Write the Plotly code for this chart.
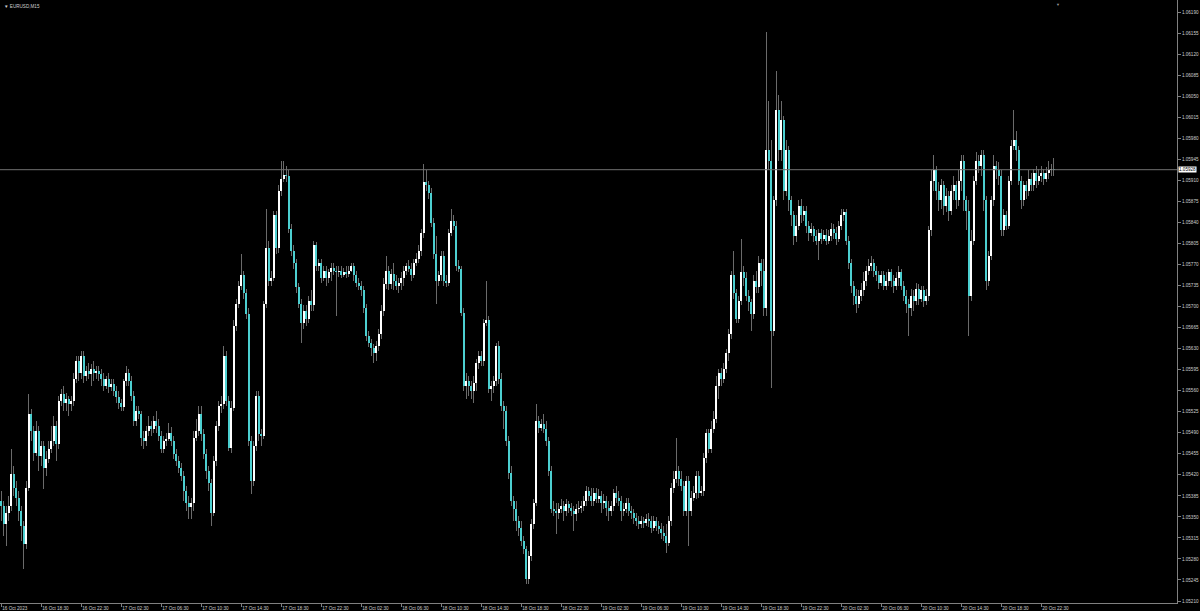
import plotly.graph_objects as go

# ---------------- data (EURUSD M15, 16 Oct 14:30 -> 20 Oct 23:45) ----------------
close = [
1.05368,1.05338,1.05357,1.05368,1.05422,1.05398,1.05382,1.05360,1.05335,1.05305,
1.05398,1.05522,1.05493,1.05457,1.05493,1.05452,1.05468,1.05432,1.05447,1.05463,
1.05477,1.05502,1.05472,1.05543,1.05555,1.05540,1.05547,1.05538,1.05543,1.05580,
1.05610,1.05590,1.05618,1.05585,1.05593,1.05588,1.05597,1.05590,1.05593,1.05588,
1.05580,1.05568,1.05580,1.05567,1.05572,1.05560,1.05550,1.05540,1.05533,1.05577,
1.05590,1.05577,1.05552,1.05510,1.05527,1.05522,1.05482,1.05477,1.05493,1.05502,
1.05497,1.05510,1.05502,1.05485,1.05463,1.05477,1.05480,1.05490,1.05477,1.05455,
1.05443,1.05432,1.05418,1.05393,1.05373,1.05367,1.05373,1.05482,1.05493,1.05522,
1.05488,1.05455,1.05427,1.05407,1.05357,1.05443,1.05502,1.05535,1.05538,1.05618,
1.05543,1.05465,1.05532,1.05668,1.05705,1.05735,1.05752,1.05722,1.05688,1.05477,
1.05410,1.05468,1.05552,1.05488,1.05485,1.05705,1.05798,1.05743,1.05748,1.05852,
1.05797,1.05893,1.05913,1.05920,1.05917,1.05830,1.05793,1.05773,1.05732,1.05705,
1.05672,1.05693,1.05680,1.05710,1.05702,1.05802,1.05768,1.05773,1.05748,1.05760,
1.05747,1.05757,1.05765,1.05760,1.05757,1.05760,1.05753,1.05758,1.05755,1.05760,
1.05767,1.05752,1.05740,1.05735,1.05727,1.05698,1.05652,1.05640,1.05632,1.05623,
1.05635,1.05655,1.05693,1.05738,1.05760,1.05738,1.05755,1.05743,1.05735,1.05740,
1.05748,1.05760,1.05768,1.05763,1.05752,1.05773,1.05780,1.05793,1.05822,1.05907,
1.05902,1.05890,1.05840,1.05788,1.05743,1.05752,1.05785,1.05743,1.05740,1.05823,
1.05843,1.05835,1.05768,1.05763,1.05690,1.05568,1.05577,1.05568,1.05560,1.05573,
1.05607,1.05618,1.05610,1.05673,1.05677,1.05563,1.05568,1.05577,1.05635,1.05580,
1.05535,1.05527,1.05477,1.05423,1.05377,1.05363,1.05343,1.05332,1.05310,1.05297,
1.05247,1.05285,1.05338,1.05373,1.05510,1.05498,1.05505,1.05497,1.05477,1.05427,
1.05363,1.05360,1.05357,1.05363,1.05368,1.05360,1.05372,1.05365,1.05360,1.05355,
1.05363,1.05365,1.05368,1.05377,1.05393,1.05385,1.05377,1.05390,1.05380,1.05385,
1.05373,1.05377,1.05365,1.05360,1.05368,1.05390,1.05382,1.05377,1.05360,1.05363,
1.05373,1.05360,1.05357,1.05348,1.05343,1.05338,1.05343,1.05340,1.05347,1.05343,
1.05332,1.05343,1.05335,1.05330,1.05323,1.05318,1.05307,1.05343,1.05398,1.05413,
1.05427,1.05413,1.05402,1.05360,1.05410,1.05360,1.05382,1.05390,1.05418,1.05390,
1.05393,1.05448,1.05490,1.05463,1.05497,1.05513,1.05568,1.05590,1.05580,1.05597,
1.05623,1.05655,1.05752,1.05723,1.05680,1.05710,1.05757,1.05748,1.05718,1.05707,
1.05688,1.05743,1.05732,1.05773,1.05760,1.05697,1.05960,1.05943,1.05660,1.05877,
1.06027,1.05960,1.06010,1.05893,1.05960,1.05877,1.05852,1.05818,1.05835,1.05868,
1.05852,1.05860,1.05835,1.05823,1.05830,1.05818,1.05810,1.05823,1.05813,1.05820,
1.05810,1.05817,1.05830,1.05823,1.05813,1.05835,1.05852,1.05857,1.05810,1.05773,
1.05735,1.05718,1.05705,1.05718,1.05727,1.05743,1.05760,1.05768,1.05773,1.05760,
1.05752,1.05740,1.05752,1.05735,1.05743,1.05757,1.05743,1.05735,1.05747,1.05757,
1.05735,1.05718,1.05705,1.05697,1.05718,1.05710,1.05730,1.05713,1.05727,1.05710,
1.05718,1.05827,1.05910,1.05927,1.05893,1.05877,1.05902,1.05868,1.05885,1.05860,
1.05893,1.05902,1.05877,1.05910,1.05943,1.05877,1.05860,1.05718,1.05810,1.05910,
1.05943,1.05935,1.05952,1.05877,1.05743,1.05785,1.05877,1.05935,1.05927,1.05918,
1.05827,1.05852,1.05835,1.05910,1.05968,1.05977,1.05960,1.05910,1.05877,1.05902,
1.05893,1.05913,1.05902,1.05923,1.05910,1.05918,1.05923,1.05913,1.05923,1.05927,
1.05930,1.05928]

open_ = [
1.05377,1.05368,1.05338,1.05357,1.05368,1.05422,1.05398,1.05382,1.05360,1.05335,
1.05305,1.05398,1.05522,1.05493,1.05457,1.05493,1.05452,1.05468,1.05432,1.05447,
1.05463,1.05477,1.05502,1.05472,1.05543,1.05555,1.05540,1.05547,1.05538,1.05543,
1.05580,1.05610,1.05590,1.05618,1.05585,1.05593,1.05588,1.05597,1.05590,1.05593,
1.05588,1.05580,1.05568,1.05580,1.05567,1.05572,1.05560,1.05550,1.05540,1.05533,
1.05577,1.05590,1.05577,1.05552,1.05510,1.05527,1.05522,1.05482,1.05477,1.05493,
1.05502,1.05497,1.05510,1.05502,1.05485,1.05463,1.05477,1.05480,1.05490,1.05477,
1.05455,1.05443,1.05432,1.05418,1.05393,1.05373,1.05367,1.05373,1.05482,1.05493,
1.05522,1.05488,1.05455,1.05427,1.05407,1.05357,1.05443,1.05502,1.05535,1.05538,
1.05618,1.05543,1.05465,1.05532,1.05668,1.05705,1.05735,1.05752,1.05722,1.05688,
1.05477,1.05410,1.05468,1.05552,1.05488,1.05485,1.05705,1.05798,1.05743,1.05748,
1.05852,1.05797,1.05893,1.05913,1.05920,1.05917,1.05830,1.05793,1.05773,1.05732,
1.05705,1.05672,1.05693,1.05680,1.05710,1.05702,1.05802,1.05768,1.05773,1.05748,
1.05760,1.05747,1.05757,1.05765,1.05760,1.05757,1.05760,1.05753,1.05758,1.05755,
1.05760,1.05767,1.05752,1.05740,1.05735,1.05727,1.05698,1.05652,1.05640,1.05632,
1.05623,1.05635,1.05655,1.05693,1.05738,1.05760,1.05738,1.05755,1.05743,1.05735,
1.05740,1.05748,1.05760,1.05768,1.05763,1.05752,1.05773,1.05780,1.05793,1.05822,
1.05907,1.05902,1.05890,1.05840,1.05788,1.05743,1.05752,1.05785,1.05743,1.05740,
1.05823,1.05843,1.05835,1.05768,1.05763,1.05690,1.05568,1.05577,1.05568,1.05560,
1.05573,1.05607,1.05618,1.05610,1.05673,1.05677,1.05563,1.05568,1.05577,1.05635,
1.05580,1.05535,1.05527,1.05477,1.05423,1.05377,1.05363,1.05343,1.05332,1.05310,
1.05297,1.05247,1.05285,1.05338,1.05373,1.05510,1.05498,1.05505,1.05497,1.05477,
1.05427,1.05363,1.05360,1.05357,1.05363,1.05368,1.05360,1.05372,1.05365,1.05360,
1.05355,1.05363,1.05365,1.05368,1.05377,1.05393,1.05385,1.05377,1.05390,1.05380,
1.05385,1.05373,1.05377,1.05365,1.05360,1.05368,1.05390,1.05382,1.05377,1.05360,
1.05363,1.05373,1.05360,1.05357,1.05348,1.05343,1.05338,1.05343,1.05340,1.05347,
1.05343,1.05332,1.05343,1.05335,1.05330,1.05323,1.05318,1.05307,1.05343,1.05398,
1.05413,1.05427,1.05413,1.05402,1.05360,1.05410,1.05360,1.05382,1.05390,1.05418,
1.05390,1.05393,1.05448,1.05490,1.05463,1.05497,1.05513,1.05568,1.05590,1.05580,
1.05597,1.05623,1.05655,1.05752,1.05723,1.05680,1.05710,1.05757,1.05748,1.05718,
1.05707,1.05688,1.05743,1.05732,1.05773,1.05760,1.05697,1.05960,1.05943,1.05660,
1.05877,1.06027,1.05960,1.06010,1.05893,1.05960,1.05877,1.05852,1.05818,1.05835,
1.05868,1.05852,1.05860,1.05835,1.05823,1.05830,1.05818,1.05810,1.05823,1.05813,
1.05820,1.05810,1.05817,1.05830,1.05823,1.05813,1.05835,1.05852,1.05857,1.05810,
1.05773,1.05735,1.05718,1.05705,1.05718,1.05727,1.05743,1.05760,1.05768,1.05773,
1.05760,1.05752,1.05740,1.05752,1.05735,1.05743,1.05757,1.05743,1.05735,1.05747,
1.05757,1.05735,1.05718,1.05705,1.05697,1.05718,1.05710,1.05730,1.05713,1.05727,
1.05710,1.05718,1.05827,1.05910,1.05927,1.05893,1.05877,1.05902,1.05868,1.05885,
1.05860,1.05893,1.05902,1.05877,1.05910,1.05943,1.05877,1.05860,1.05718,1.05810,
1.05910,1.05943,1.05935,1.05952,1.05877,1.05743,1.05785,1.05877,1.05935,1.05927,
1.05918,1.05827,1.05852,1.05835,1.05910,1.05968,1.05977,1.05960,1.05910,1.05877,
1.05902,1.05893,1.05913,1.05902,1.05923,1.05910,1.05918,1.05923,1.05913,1.05923,
1.05927,1.05930]

high = [
1.05393,1.05377,1.05368,1.05385,1.05463,1.05435,1.05410,1.05393,1.05368,1.05343,
1.05410,1.05555,1.05530,1.05502,1.05510,1.05502,1.05477,1.05477,1.05460,1.05477,
1.05502,1.05518,1.05510,1.05552,1.05563,1.05568,1.05557,1.05552,1.05552,1.05590,
1.05618,1.05618,1.05627,1.05627,1.05602,1.05607,1.05605,1.05610,1.05602,1.05602,
1.05597,1.05590,1.05585,1.05590,1.05580,1.05580,1.05568,1.05560,1.05547,1.05580,
1.05602,1.05597,1.05585,1.05560,1.05535,1.05535,1.05527,1.05493,1.05502,1.05518,
1.05510,1.05518,1.05527,1.05513,1.05493,1.05485,1.05490,1.05507,1.05500,1.05485,
1.05463,1.05452,1.05440,1.05427,1.05402,1.05385,1.05382,1.05493,1.05513,1.05535,
1.05535,1.05497,1.05463,1.05435,1.05413,1.05452,1.05510,1.05543,1.05552,1.05635,
1.05627,1.05552,1.05543,1.05677,1.05713,1.05743,1.05788,1.05760,1.05730,1.05697,
1.05485,1.05477,1.05560,1.05560,1.05497,1.05710,1.05863,1.05810,1.05760,1.05860,
1.05860,1.05902,1.05943,1.05943,1.05935,1.05927,1.05837,1.05802,1.05780,1.05740,
1.05713,1.05702,1.05702,1.05718,1.05727,1.05810,1.05807,1.05780,1.05780,1.05768,
1.05768,1.05763,1.05773,1.05772,1.05768,1.05767,1.05767,1.05765,1.05767,1.05768,
1.05773,1.05773,1.05760,1.05747,1.05743,1.05735,1.05705,1.05660,1.05647,1.05638,
1.05643,1.05663,1.05702,1.05747,1.05785,1.05768,1.05763,1.05773,1.05752,1.05747,
1.05757,1.05768,1.05773,1.05777,1.05773,1.05780,1.05790,1.05802,1.05830,1.05938,
1.05927,1.05910,1.05897,1.05847,1.05818,1.05760,1.05793,1.05793,1.05752,1.05830,
1.05863,1.05852,1.05843,1.05777,1.05768,1.05697,1.05590,1.05585,1.05577,1.05585,
1.05613,1.05627,1.05627,1.05680,1.05743,1.05685,1.05577,1.05585,1.05640,1.05643,
1.05590,1.05543,1.05535,1.05485,1.05435,1.05385,1.05377,1.05352,1.05343,1.05318,
1.05302,1.05293,1.05347,1.05380,1.05538,1.05518,1.05513,1.05522,1.05510,1.05483,
1.05435,1.05377,1.05373,1.05373,1.05380,1.05377,1.05380,1.05377,1.05373,1.05368,
1.05372,1.05377,1.05377,1.05385,1.05402,1.05400,1.05398,1.05398,1.05398,1.05397,
1.05393,1.05388,1.05385,1.05377,1.05377,1.05397,1.05402,1.05393,1.05385,1.05373,
1.05382,1.05382,1.05368,1.05363,1.05357,1.05352,1.05352,1.05350,1.05355,1.05357,
1.05352,1.05352,1.05350,1.05343,1.05340,1.05335,1.05338,1.05352,1.05407,1.05427,
1.05482,1.05435,1.05427,1.05410,1.05418,1.05418,1.05393,1.05402,1.05427,1.05427,
1.05402,1.05457,1.05497,1.05497,1.05510,1.05527,1.05585,1.05597,1.05598,1.05607,
1.05630,1.05663,1.05760,1.05793,1.05730,1.05718,1.05813,1.05768,1.05757,1.05727,
1.05713,1.05752,1.05760,1.05785,1.05780,1.05780,1.06157,1.06043,1.05977,1.05885,
1.06093,1.06052,1.06043,1.06018,1.05977,1.05968,1.05885,1.05860,1.05852,1.05877,
1.05880,1.05868,1.05868,1.05843,1.05840,1.05835,1.05827,1.05830,1.05830,1.05827,
1.05830,1.05827,1.05840,1.05837,1.05833,1.05843,1.05863,1.05863,1.05863,1.05818,
1.05780,1.05743,1.05730,1.05727,1.05740,1.05757,1.05768,1.05780,1.05785,1.05780,
1.05768,1.05760,1.05760,1.05760,1.05757,1.05763,1.05763,1.05752,1.05757,1.05767,
1.05763,1.05743,1.05727,1.05713,1.05730,1.05727,1.05740,1.05737,1.05735,1.05735,
1.05730,1.05835,1.05927,1.05952,1.05935,1.05907,1.05913,1.05910,1.05897,1.05893,
1.05902,1.05918,1.05910,1.05927,1.05952,1.05952,1.05885,1.05877,1.05827,1.05918,
1.05957,1.05952,1.05960,1.05960,1.05885,1.05793,1.05885,1.05952,1.05943,1.05940,
1.05927,1.05863,1.05860,1.05918,1.05977,1.06027,1.05993,1.05968,1.05918,1.05910,
1.05910,1.05927,1.05923,1.05930,1.05935,1.05930,1.05935,1.05930,1.05933,1.05943,
1.05938,1.05947]

low = [
1.05343,1.05318,1.05302,1.05343,1.05360,1.05385,1.05368,1.05343,1.05310,1.05263,
1.05297,1.05393,1.05477,1.05443,1.05452,1.05427,1.05435,1.05397,1.05418,1.05440,
1.05457,1.05468,1.05443,1.05463,1.05535,1.05527,1.05527,1.05518,1.05527,1.05535,
1.05573,1.05577,1.05580,1.05573,1.05577,1.05580,1.05568,1.05577,1.05580,1.05577,
1.05568,1.05560,1.05563,1.05557,1.05560,1.05552,1.05540,1.05530,1.05527,1.05527,
1.05568,1.05568,1.05543,1.05502,1.05502,1.05513,1.05468,1.05463,1.05468,1.05485,
1.05485,1.05490,1.05490,1.05477,1.05457,1.05457,1.05468,1.05477,1.05468,1.05447,
1.05435,1.05423,1.05410,1.05377,1.05360,1.05347,1.05347,1.05360,1.05477,1.05485,
1.05477,1.05447,1.05413,1.05393,1.05335,1.05352,1.05435,1.05493,1.05523,1.05530,
1.05535,1.05460,1.05457,1.05527,1.05660,1.05697,1.05727,1.05713,1.05680,1.05468,
1.05388,1.05402,1.05460,1.05477,1.05468,1.05480,1.05697,1.05735,1.05735,1.05743,
1.05788,1.05790,1.05885,1.05907,1.05907,1.05823,1.05785,1.05763,1.05723,1.05697,
1.05640,1.05663,1.05668,1.05673,1.05693,1.05693,1.05760,1.05760,1.05740,1.05743,
1.05735,1.05740,1.05743,1.05752,1.05685,1.05750,1.05747,1.05750,1.05747,1.05750,
1.05757,1.05743,1.05733,1.05727,1.05718,1.05690,1.05643,1.05633,1.05618,1.05607,
1.05610,1.05627,1.05647,1.05685,1.05730,1.05727,1.05730,1.05727,1.05727,1.05723,
1.05727,1.05735,1.05752,1.05757,1.05743,1.05747,1.05768,1.05773,1.05785,1.05815,
1.05893,1.05880,1.05833,1.05780,1.05705,1.05735,1.05743,1.05735,1.05732,1.05735,
1.05818,1.05827,1.05760,1.05757,1.05685,1.05560,1.05547,1.05552,1.05547,1.05540,
1.05560,1.05597,1.05602,1.05602,1.05667,1.05557,1.05543,1.05557,1.05568,1.05572,
1.05527,1.05497,1.05468,1.05413,1.05368,1.05343,1.05327,1.05318,1.05302,1.05288,
1.05238,1.05238,1.05277,1.05330,1.05368,1.05490,1.05493,1.05490,1.05468,1.05418,
1.05357,1.05352,1.05322,1.05347,1.05357,1.05343,1.05352,1.05357,1.05352,1.05327,
1.05343,1.05357,1.05357,1.05360,1.05368,1.05377,1.05368,1.05368,1.05373,1.05373,
1.05357,1.05363,1.05352,1.05343,1.05352,1.05360,1.05373,1.05368,1.05343,1.05352,
1.05357,1.05352,1.05347,1.05338,1.05335,1.05330,1.05332,1.05332,1.05335,1.05333,
1.05323,1.05327,1.05327,1.05322,1.05313,1.05310,1.05290,1.05302,1.05335,1.05390,
1.05407,1.05402,1.05393,1.05352,1.05352,1.05302,1.05352,1.05377,1.05380,1.05382,
1.05385,1.05385,1.05440,1.05457,1.05457,1.05490,1.05507,1.05547,1.05568,1.05573,
1.05590,1.05610,1.05647,1.05713,1.05673,1.05673,1.05702,1.05735,1.05710,1.05693,
1.05660,1.05680,1.05723,1.05723,1.05735,1.05685,1.05685,1.05927,1.05565,1.05652,
1.05868,1.05943,1.05943,1.05877,1.05885,1.05860,1.05835,1.05802,1.05807,1.05827,
1.05840,1.05843,1.05823,1.05810,1.05817,1.05807,1.05802,1.05777,1.05805,1.05810,
1.05802,1.05805,1.05810,1.05813,1.05803,1.05807,1.05827,1.05843,1.05802,1.05763,
1.05723,1.05702,1.05690,1.05697,1.05710,1.05718,1.05735,1.05752,1.05760,1.05750,
1.05743,1.05730,1.05735,1.05727,1.05727,1.05735,1.05732,1.05723,1.05727,1.05735,
1.05727,1.05710,1.05690,1.05652,1.05685,1.05693,1.05702,1.05702,1.05707,1.05700,
1.05703,1.05710,1.05818,1.05893,1.05877,1.05860,1.05863,1.05852,1.05857,1.05843,
1.05852,1.05877,1.05863,1.05868,1.05893,1.05860,1.05827,1.05652,1.05710,1.05802,
1.05902,1.05923,1.05918,1.05860,1.05727,1.05735,1.05777,1.05868,1.05913,1.05902,
1.05818,1.05818,1.05827,1.05830,1.05902,1.05960,1.05943,1.05902,1.05863,1.05868,
1.05880,1.05885,1.05893,1.05893,1.05897,1.05902,1.05907,1.05902,1.05907,1.05913,
1.05918,1.05918]

time_tick_labels = [
    "16 Oct 2023", "16 Oct 18:30", "16 Oct 22:30", "17 Oct 02:30", "17 Oct 06:30",
    "17 Oct 10:30", "17 Oct 14:30", "17 Oct 18:30", "17 Oct 22:30", "18 Oct 02:30",
    "18 Oct 06:30", "18 Oct 10:30", "18 Oct 14:30", "18 Oct 18:30", "18 Oct 22:30",
    "19 Oct 02:30", "19 Oct 06:30", "19 Oct 10:30", "19 Oct 14:30", "19 Oct 18:30",
    "19 Oct 22:30", "20 Oct 02:30", "20 Oct 06:30", "20 Oct 10:30", "20 Oct 14:30",
    "20 Oct 18:30", "20 Oct 22:30"]
time_tick_bars = [0] + [16 * k for k in range(1, 27)]

price_tick_labels = [
    "1.05210", "1.05245", "1.05280", "1.05315", "1.05350", "1.05385", "1.05420",
    "1.05455", "1.05490", "1.05525", "1.05560", "1.05595", "1.05630", "1.05665",
    "1.05700", "1.05735", "1.05770", "1.05805", "1.05840", "1.05875", "1.05910",
    "1.05945", "1.05980", "1.06015", "1.06050", "1.06085", "1.06120", "1.06155",
    "1.06190"]

symbol_label = "EURUSD,M15"
last_price = 1.05928

# ---------------- styling ----------------
BG = "#000000"
BULL = "#ffffff"
BEAR = "#4ccfd0"
WICK = "#6a6a6a"
AXIS = "#808080"
TEXT = "#cfcfcf"
FONT = "Liberation Sans"

n = len(close)
idx = list(range(n))
wick_h = [h - l for h, l in zip(high, low)]
body_base = [min(o, c) for o, c in zip(open_, close)]
body_h = [max(abs(c - o), 0.000012) for o, c in zip(open_, close)]
body_col = [BULL if c >= o else BEAR for o, c in zip(open_, close)]

fig = go.Figure()
# wicks (high-low range)
fig.add_trace(go.Bar(
    x=idx, y=wick_h, base=low, width=0.38,
    marker=dict(color=WICK, line=dict(width=0)),
    hoverinfo="skip", showlegend=False))
# bodies (open-close range)
fig.add_trace(go.Bar(
    x=idx, y=body_h, base=body_base, width=0.76,
    marker=dict(color=body_col, line=dict(width=0)),
    hoverinfo="skip", showlegend=False))

# current price line
fig.add_shape(type="line", xref="paper", x0=0, x1=1, yref="y",
              y0=last_price, y1=last_price, line=dict(color="#707070", width=1))
fig.add_annotation(xref="paper", x=1, xanchor="left", xshift=1,
                   yref="y", y=last_price, yanchor="middle",
                   text=f"{last_price:.5f}", showarrow=False,
                   bgcolor="#ffffff", borderpad=0,
                   font=dict(family=FONT, size=4.6, color="#000000"))
# symbol caption
fig.add_annotation(xref="paper", yref="paper", x=0, y=1, xanchor="left", yanchor="top",
                   xshift=2, yshift=-2, showarrow=False,
                   text="\u25bc " + symbol_label,
                   font=dict(family=FONT, size=4.6, color=TEXT))
# chart shift marker
fig.add_annotation(xref="paper", yref="paper", x=1058 / 1177, y=1, xanchor="center",
                   yanchor="top", showarrow=False, text="\u25bc",
                   font=dict(family=FONT, size=4, color="#9a9a9a"))

fig.update_layout(
    width=1200, height=611,
    paper_bgcolor=BG, plot_bgcolor=BG,
    margin=dict(l=0, r=23, t=0, b=8, autoexpand=False),
    barmode="overlay", bargap=0, showlegend=False, hovermode=False,
    font=dict(family=FONT, color=TEXT),
    xaxis=dict(
        range=[-0.5, 470.3],
        tickmode="array", tickvals=time_tick_bars, ticktext=time_tick_labels,
        ticks="outside", ticklen=3, tickwidth=1, tickcolor=AXIS,
        ticklabelposition="outside right",
        tickfont=dict(family=FONT, size=4.6, color=TEXT),
        showline=True, linecolor=AXIS, linewidth=1,
        showgrid=False, zeroline=False, fixedrange=True),
    yaxis=dict(
        side="right", range=[1.052067, 1.062105],
        tickmode="array", tickvals=[float(s) for s in price_tick_labels],
        ticktext=price_tick_labels,
        ticks="outside", ticklen=3, tickwidth=1, tickcolor=AXIS,
        tickfont=dict(family=FONT, size=4.6, color=TEXT),
        showline=True, linecolor=AXIS, linewidth=1,
        showgrid=False, zeroline=False, fixedrange=True),
)

fig.write_html(
    "out.html",
    config={"displayModeBar": False, "staticPlot": True},
    post_script="document.body.style.margin='0px';document.body.style.background='#000';",
)
